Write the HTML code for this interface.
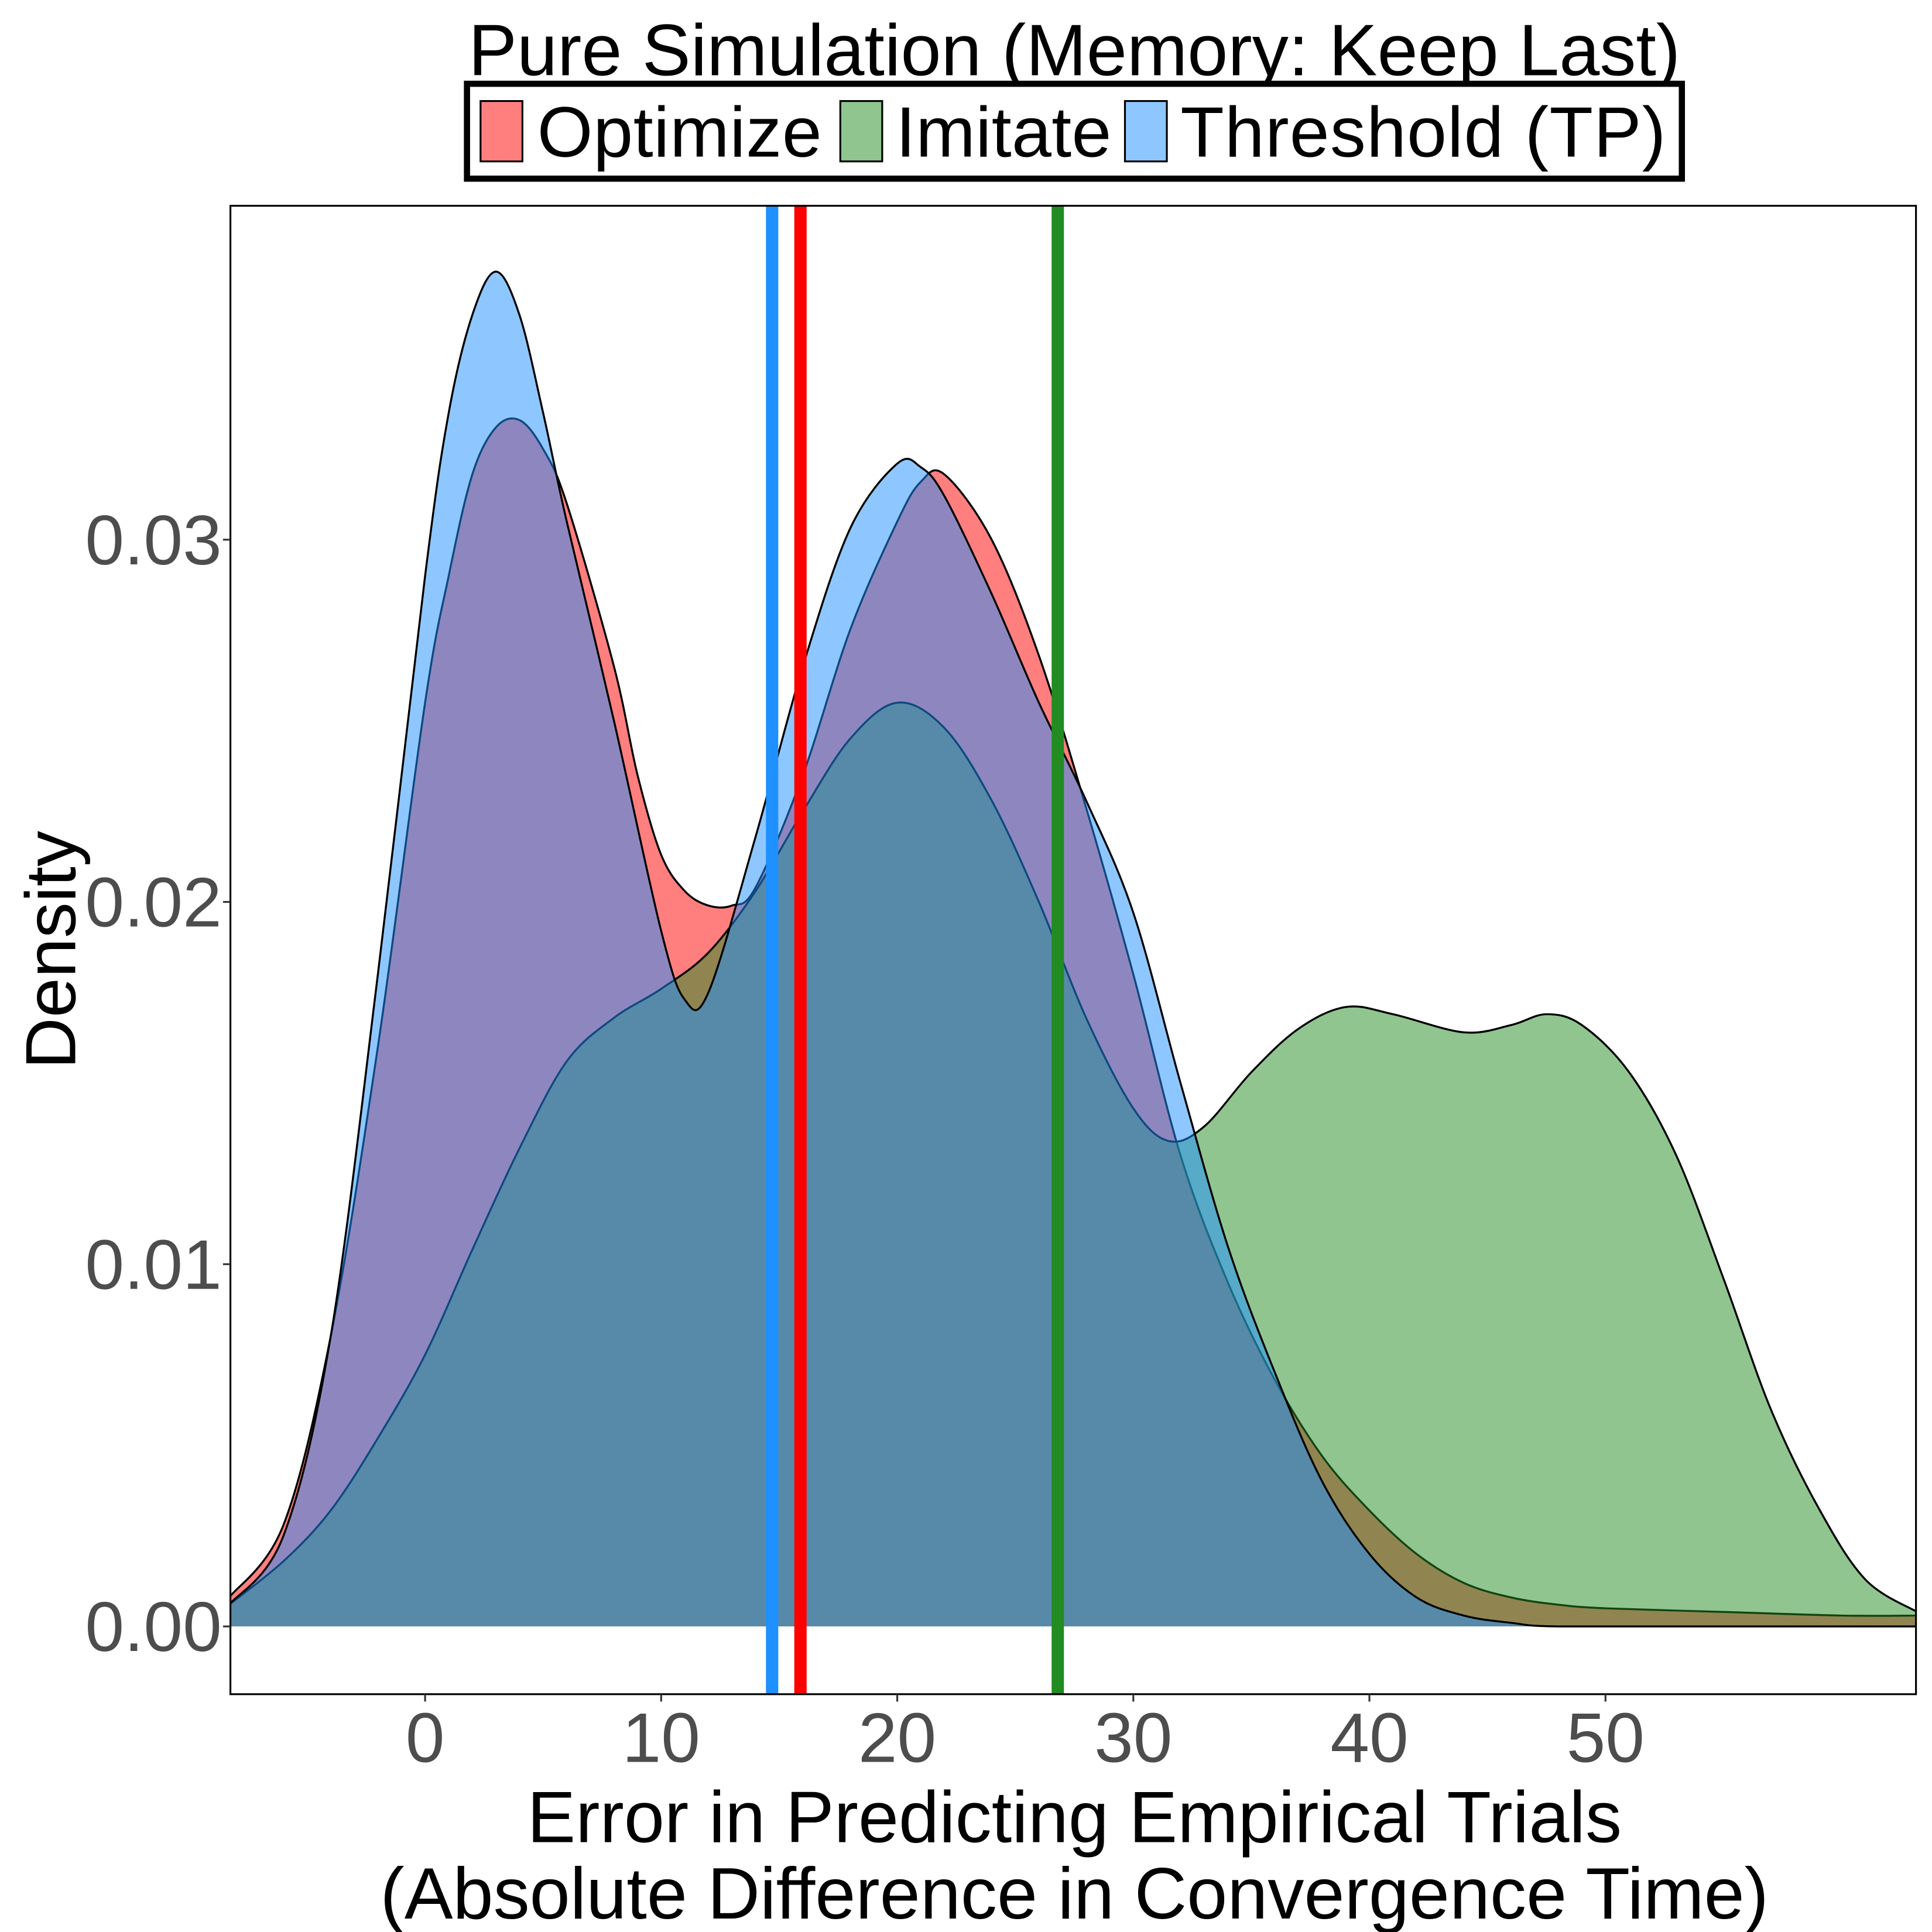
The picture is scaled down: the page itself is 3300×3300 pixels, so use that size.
<!DOCTYPE html>
<html><head><meta charset="utf-8"><style>
html,body{margin:0;padding:0;background:#fff;}
svg{display:block;}
text{font-family:"Liberation Sans",Arial,sans-serif;}
</style></head><body>
<svg id="chart" width="3300" height="3300" viewBox="0 0 1568 1568" xmlns="http://www.w3.org/2000/svg">
<rect width="1568" height="1568" fill="#fff"/>
<text x="872" y="61" font-size="59" text-anchor="middle" fill="#000">Pure Simulation (Memory: Keep Last)</text>
<g>
<rect x="379" y="68" width="986" height="77" fill="#fff" stroke="#000" stroke-width="5"/>
<g><rect x="390" y="82" width="34" height="49" fill="rgba(255,0,0,0.5)" stroke="#000" stroke-width="1.5"/><text x="436" y="127" font-size="58" textLength="231">Optimize</text></g>
<g><rect x="682" y="82" width="34" height="49" fill="rgba(34,139,34,0.5)" stroke="#000" stroke-width="1.5"/><text x="727" y="127" font-size="58" textLength="175">Imitate</text></g>
<g><rect x="913" y="82" width="34" height="49" fill="rgba(30,144,255,0.5)" stroke="#000" stroke-width="1.5"/><text x="958" y="127" font-size="58" textLength="394">Threshold (TP)</text></g>
</g>
<clipPath id="pc"><rect x="187" y="167" width="1368" height="1208"/></clipPath>
<g id="marks" clip-path="url(#pc)"></g>
<rect x="187" y="167" width="1368" height="1208" fill="none" stroke="#000" stroke-width="1.5"/>
<g id="axes"></g>
<text x="872" y="1495" font-size="59" text-anchor="middle">Error in Predicting Empirical Trials</text>
<text x="872" y="1557" font-size="59" text-anchor="middle">(Absolute Difference in Convergence Time)</text>
<text x="0" y="0" font-size="58" text-anchor="middle" transform="translate(61,771) rotate(-90)">Density</text>
</svg>
<script>
const optX = [-8.3,-6,-4,-2,0,1,2,3,4,5,6,8,9,10,11,12,13,14,16,18,20,21,22,24,26,28,30,32,34,36,38,40,42,44,46,48,50,55,60,63.2];
const optY = [0.0008,0.0028,0.008,0.016,0.0255,0.029,0.0318,0.0331,0.0333,0.0325,0.031,0.0265,0.0235,0.0213,0.0203,0.0199,0.0199,0.0204,0.0235,0.0275,0.0305,0.0316,0.0318,0.0300,0.0268,0.0226,0.0180,0.0130,0.0095,0.0068,0.0047,0.0032,0.0020,0.0012,0.0008,0.0006,0.0005,0.0004,0.0003,0.0003];
const imiX = [-8.3,-6,-4,-2,0,2,4,6,8,10,12,14,16,18,20,22,24,26,28,30,31.5,33,35,37,39,41,44,46,47.5,49,51,53,55,57,59,61,63.2];
const imiY = [0.0006,0.0018,0.0032,0.0052,0.0075,0.0104,0.0132,0.0156,0.0168,0.0176,0.0186,0.0203,0.0225,0.0245,0.0255,0.0248,0.0228,0.0200,0.0168,0.0143,0.0134,0.0138,0.0153,0.0165,0.0171,0.0169,0.0164,0.0166,0.0169,0.0166,0.0153,0.0130,0.0096,0.0060,0.0033,0.0013,0.0004];
const thrX = [-8.3,-6,-4,-2,0,1,2,3,4,5,6,8,10,11,12,14,16,18,20,21,22,24,26,28,30,32,34,36,38,40,42,44,46,48,55,63.2];
const thrY = [0.0006,0.0025,0.008,0.018,0.029,0.0335,0.0362,0.0374,0.0362,0.0335,0.0305,0.025,0.0192,0.0173,0.0175,0.0218,0.0265,0.0303,0.0321,0.0320,0.0312,0.0285,0.0255,0.0228,0.0197,0.0150,0.0105,0.0070,0.0040,0.0020,0.0008,0.0003,0.0001,0,0,0];
const meanX = [15.9,26.8,14.7];
const meanColors = ['#FF0000','#228B22','#1E90FF'];
const xTicks = [0,10,20,30,40,50];
const yTicks = [0,0.01,0.02,0.03];
const yTickLabels = ['0.00','0.01','0.02','0.03'];

const NS='http://www.w3.org/2000/svg';
const sx = v => 345 + v*19.16;
const sy = v => 1320 - v*29400;
function curve(xs, ys){
  const p = xs.map((x,i)=>[sx(x), sy(ys[i])]);
  let d = `M${p[0][0]},${p[0][1]}`;
  for(let i=0;i<p.length-1;i++){
    const p0=p[Math.max(0,i-1)], p1=p[i], p2=p[i+1], p3=p[Math.min(p.length-1,i+2)];
    const c1=[p1[0]+(p2[0]-p0[0])/6, p1[1]+(p2[1]-p0[1])/6];
    const c2=[p2[0]-(p3[0]-p1[0])/6, p2[1]-(p3[1]-p1[1])/6];
    d += ` C${c1[0]},${Math.min(c1[1],sy(0))} ${c2[0]},${Math.min(c2[1],sy(0))} ${p2[0]},${p2[1]}`;
  }
  return {d, x0:p[0][0], x1:p[p.length-1][0]};
}
const marks = document.getElementById('marks');
const series = [[optX,optY,'rgba(255,0,0,0.5)','density-optimize'],[imiX,imiY,'rgba(34,139,34,0.5)','density-imitate'],[thrX,thrY,'rgba(30,144,255,0.5)','density-threshold']];
series.forEach(s=>{
  const c = curve(s[0],s[1]);
  const fill=document.createElementNS(NS,'path');
  fill.setAttribute('d', `M${c.x0},${sy(0)} L` + c.d.slice(1) + ` L${c.x1},${sy(0)} Z`);
  fill.setAttribute('fill', s[2]);
  fill.setAttribute('stroke','none');
  
  
  marks.appendChild(fill);
  const line=document.createElementNS(NS,'path');
  line.setAttribute('d', c.d);
  line.setAttribute('fill','none');
  line.setAttribute('stroke','#000');
  line.setAttribute('stroke-width','1.6');
  
  
  marks.appendChild(line);
});
meanX.forEach((m,i)=>{
  const l=document.createElementNS(NS,'line');
  l.setAttribute('x1',sx(m)); l.setAttribute('x2',sx(m));
  l.setAttribute('y1',167); l.setAttribute('y2',1375);
  l.setAttribute('stroke',meanColors[i]); l.setAttribute('stroke-width','10');
  
  
  marks.appendChild(l);
});
const axes=document.getElementById('axes');
xTicks.forEach(t=>{
  const tk=document.createElementNS(NS,'line');
  tk.setAttribute('x1',sx(t)); tk.setAttribute('x2',sx(t)); tk.setAttribute('y1',1375); tk.setAttribute('y2',1381);
  tk.setAttribute('stroke','#333'); tk.setAttribute('stroke-width','1.5');
  
  
  axes.appendChild(tk);
  const tx=document.createElementNS(NS,'text');
  tx.setAttribute('x',sx(t)); tx.setAttribute('y',1430); tx.setAttribute('font-size','57');
  tx.setAttribute('text-anchor','middle'); tx.setAttribute('fill','#4D4D4D');
  tx.textContent=t;
  
  
  axes.appendChild(tx);
});
yTicks.forEach((t,i)=>{
  const tk=document.createElementNS(NS,'line');
  tk.setAttribute('x1',181); tk.setAttribute('x2',187); tk.setAttribute('y1',sy(t)); tk.setAttribute('y2',sy(t));
  tk.setAttribute('stroke','#333'); tk.setAttribute('stroke-width','1.5');
  
  
  axes.appendChild(tk);
  const tx=document.createElementNS(NS,'text');
  tx.setAttribute('x',180); tx.setAttribute('y',sy(t)+20); tx.setAttribute('font-size','57');
  tx.setAttribute('text-anchor','end'); tx.setAttribute('fill','#4D4D4D');
  tx.textContent=yTickLabels[i];
  
  
  axes.appendChild(tx);
});
</script>
</body></html>
